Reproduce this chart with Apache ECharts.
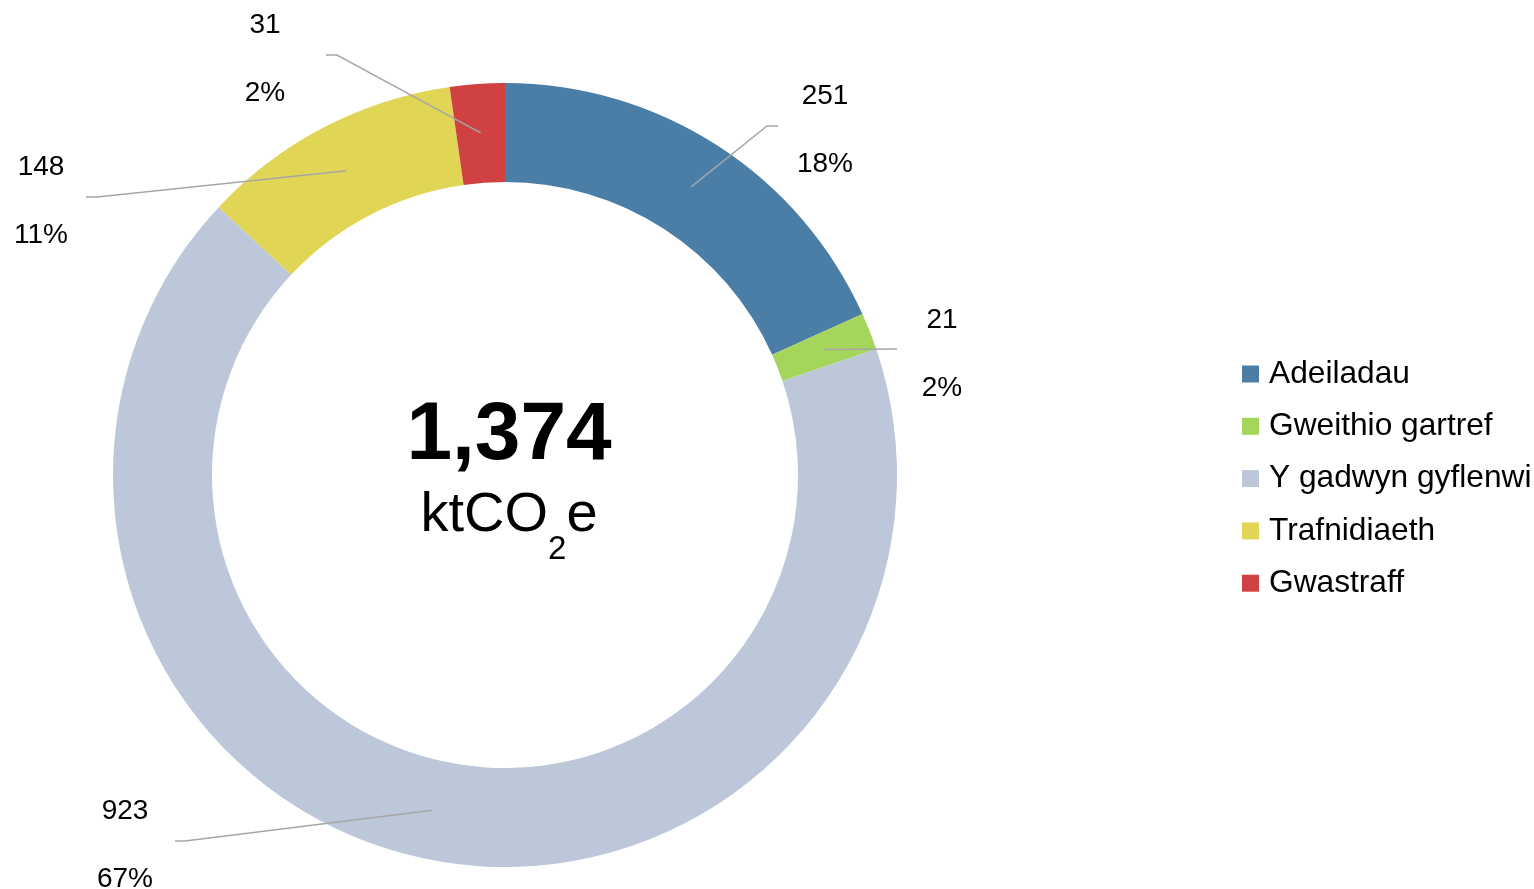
<!DOCTYPE html>
<html>
<head>
<meta charset="utf-8">
<title>Allyriadau</title>
<script src="https://cdn.jsdelivr.net/npm/echarts@6/dist/echarts.min.js"></script>
<style>
  html, body { margin: 0; padding: 0; background: #fff; }
  #chart { width: 1534px; height: 889px; }
</style>
</head>
<body>
<div id="chart"></div>
<script>
  // data (ktCO2e)
  var categories = ['Adeiladau', 'Gweithio gartref', 'Y gadwyn gyflenwi', 'Trafnidiaeth', 'Gwastraff']
  var values = [251, 21, 923, 148, 31]
  var colors = ['#4a7ea6', '#a6d55b', '#bcc8da', '#e0d555', '#d04141']
  var unitParts = ['ktCO', '2', 'e']

  // where each label sits, and the bend/end of its leader line
  var labelSpots = [
    { x: 825, y: 130, bend: [767, 126], end: [778, 126] },
    { x: 942, y: 354, bend: [897, 349], end: [897, 349] },
    { x: 125, y: 845, bend: [185, 841], end: [175, 841] },
    { x: 41, y: 201, bend: [97, 197], end: [86, 197] },
    { x: 265, y: 59, bend: [337, 55], end: [326, 55] }
  ]

  var font = '"Liberation Sans", Arial, sans-serif'
  var total = 0
  for (var i = 0; i < values.length; i++) total += values[i]

  var pieData = []
  for (var i = 0; i < categories.length; i++) {
    pieData.push({ name: categories[i], value: values[i], itemStyle: { color: colors[i] } })
  }

  var chart = echarts.init(document.getElementById('chart'))
  chart.setOption({
    backgroundColor: '#fff',
    animation: false,
    legend: {
      orient: 'vertical',
      left: 1242,
      top: 358,
      padding: 0,
      itemWidth: 17,
      itemHeight: 17,
      itemGap: 20.3,
      icon: 'rect',
      data: categories,
      textStyle: {
        fontFamily: font,
        fontSize: 31.7,
        lineHeight: 31.7,
        color: '#000',
        padding: [0, 0, 0, 5]
      }
    },
    graphic: [
      {
        type: 'text',
        x: 509,
        y: 436,
        z: 10,
        style: {
          text: total.toLocaleString('en-GB'),
          fontFamily: font,
          fontSize: 82,
          fontWeight: 'bold',
          fill: '#000',
          align: 'center',
          verticalAlign: 'middle'
        }
      },
      {
        type: 'text',
        x: 509,
        y: 488,
        z: 10,
        style: {
          text: '{a|' + unitParts[0] + '}{b|' + unitParts[1] + '}{a|' + unitParts[2] + '}',
          fontFamily: font,
          fill: '#000',
          align: 'center',
          verticalAlign: 'top',
          rich: {
            a: { fontFamily: font, fontSize: 56, lineHeight: 56, verticalAlign: 'top', fill: '#000' },
            b: { fontFamily: font, fontSize: 33, lineHeight: 33, verticalAlign: 'top', padding: [45, 0, 0, 0], fill: '#000' }
          }
        }
      }
    ],
    series: [
      {
        name: 'ring',
        type: 'pie',
        z: 1,
        center: [505, 475],
        radius: [293, 392],
        startAngle: 90,
        clockwise: true,
        silent: true,
        label: { show: false },
        labelLine: { show: false },
        emphasis: { disabled: true },
        data: pieData
      },
      {
        // invisible pie out to the middle of the ring, only for labels and leader lines
        name: 'labels',
        type: 'pie',
        z: 5,
        center: [505, 475],
        radius: [0, 343],
        startAngle: 90,
        clockwise: true,
        silent: true,
        avoidLabelOverlap: false,
        percentPrecision: 0,
        itemStyle: { color: 'rgba(0,0,0,0)' },
        emphasis: { disabled: true },
        label: {
          show: true,
          position: 'outside',
          formatter: '{c}\n{d}%',
          fontFamily: font,
          fontSize: 28,
          lineHeight: 68,
          color: '#000'
        },
        labelLine: {
          show: true,
          length: 20,
          length2: 10,
          lineStyle: { color: '#a6a6a6', width: 1.5 }
        },
        labelLayout: function (params) {
          var s = labelSpots[params.dataIndex]
          var out = { x: s.x, y: s.y, align: 'center', verticalAlign: 'middle' }
          if (params.labelLinePoints) {
            var p0 = params.labelLinePoints[0]
            out.labelLinePoints = [[p0[0], p0[1]], s.bend, s.end]
          }
          return out
        },
        data: pieData.map(function (d) { return { name: d.name, value: d.value } })
      }
    ]
  })
</script>
</body>
</html>
